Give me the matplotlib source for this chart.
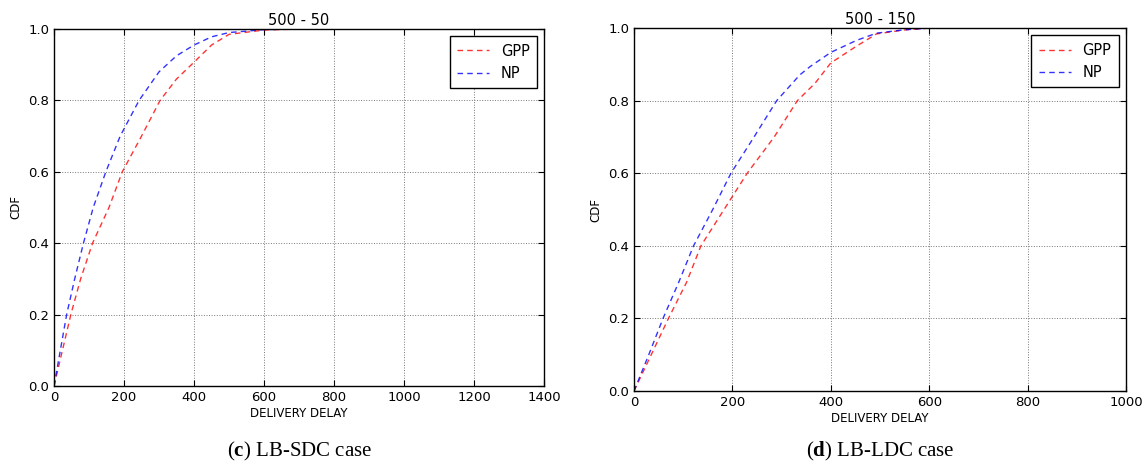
import matplotlib.pyplot as plt

plt.rcParams["mathtext.fontset"] = "custom"
plt.rcParams["mathtext.bf"] = "Liberation Serif:bold"
plt.rcParams["mathtext.rm"] = "Liberation Serif"

# (c) LB-SDC case, 500 - 50
sdc_gpp_x = [0, 24, 48, 76, 110, 157, 195, 250, 303, 350, 400, 450, 500, 600, 700, 770]
sdc_gpp_y = [0.0, 0.1, 0.2, 0.3, 0.4, 0.5, 0.6, 0.7, 0.8, 0.86, 0.907, 0.955, 0.985, 0.997, 1.0, 1.0]
sdc_np_x = [0, 18, 36, 59, 84, 112, 148, 189, 243, 300, 350, 400, 450, 500, 600, 700, 770]
sdc_np_y = [0.0, 0.1, 0.2, 0.3, 0.4, 0.5, 0.6, 0.7, 0.8, 0.88, 0.925, 0.955, 0.978, 0.99, 0.998, 1.0, 1.0]

# (d) LB-LDC case, 500 - 150
ldc_gpp_x = [0, 35, 70, 107, 136, 183, 230, 285, 332, 368, 400, 452, 493, 550, 600, 720]
ldc_gpp_y = [0.0, 0.1, 0.2, 0.3, 0.4, 0.5, 0.6, 0.7, 0.8, 0.848, 0.904, 0.95, 0.984, 0.995, 1.0, 1.0]
ldc_np_x = [0, 30, 59, 91, 121, 160, 197, 244, 290, 337, 358, 400, 452, 493, 547, 600, 720]
ldc_np_y = [0.0, 0.1, 0.2, 0.3, 0.4, 0.5, 0.6, 0.7, 0.8, 0.871, 0.894, 0.933, 0.966, 0.986, 0.995, 1.0, 1.0]

panels = [
    dict(title="500 - 50", gpp=(sdc_gpp_x, sdc_gpp_y), np_=(sdc_np_x, sdc_np_y),
         xmax=1400, rect=[0.0472, 0.170, 0.428, 0.7677], tag="c", caption="LB-SDC case"),
    dict(title="500 - 150", gpp=(ldc_gpp_x, ldc_gpp_y), np_=(ldc_np_x, ldc_np_y),
         xmax=1000, rect=[0.5537, 0.159, 0.4297, 0.7806], tag="d", caption="LB-LDC case"),
]

fig = plt.figure(figsize=(11.45, 4.65), dpi=100)

for p in panels:
    ax = fig.add_axes(p["rect"])
    ax.plot(*p["gpp"], color="red", linestyle="--", dashes=(4, 3), linewidth=1.0, alpha=0.8, label="GPP")
    ax.plot(*p["np_"], color="blue", linestyle="--", dashes=(4, 3), linewidth=1.0, alpha=0.8, label="NP")
    ax.set_xlim(0, p["xmax"])
    ax.set_ylim(0, 1.0)
    ax.set_xticks(range(0, p["xmax"] + 1, 200))
    ax.set_yticks([0.0, 0.2, 0.4, 0.6, 0.8, 1.0])
    ax.set_yticklabels(["0.0", "0.2", "0.4", "0.6", "0.8", "1.0"])
    ax.tick_params(direction="in", labelsize=9.5, top=True, right=True, length=4)
    ax.grid(True, linestyle=":", color="#777777", linewidth=0.7)
    ax.set_title(p["title"], fontsize=10.5, pad=3)
    ax.set_xlabel("DELIVERY DELAY", fontsize=8.5, labelpad=2)
    ax.set_ylabel("CDF", fontsize=8.5)
    for s in ax.spines.values():
        s.set_linewidth(1.0)
    leg = ax.legend(loc="upper right", fontsize=10.5, handlelength=2.2, fancybox=False,
                    framealpha=1, edgecolor="black", borderpad=0.5)
    leg.get_frame().set_linewidth(1.0)

    cx = p["rect"][0] + p["rect"][2] / 2
    fig.text(cx, 0.03, r"($\mathbf{%s}$) %s" % (p["tag"], p["caption"]),
             ha="center", va="center", fontsize=15, family="Liberation Serif")

fig.savefig("out.png", dpi=100)
